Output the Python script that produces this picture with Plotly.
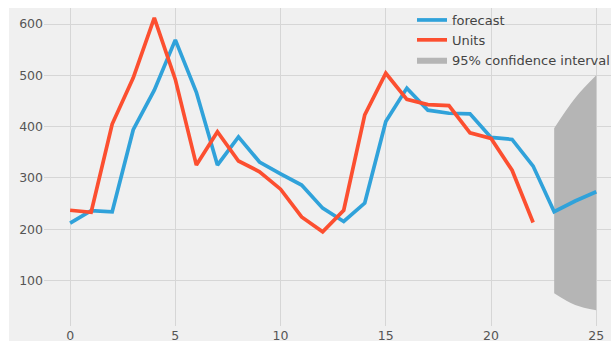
import plotly.graph_objects as go

# ---- data ----
units_x = list(range(0, 23))
units = [237, 233, 405, 495, 612, 492, 325, 390, 333, 312, 278, 224, 195, 237,
         423, 504, 453, 443, 441, 388, 377, 315, 213]
forecast_x = list(range(0, 26))
forecast = [212, 236, 234, 394, 471, 569, 467, 325, 380, 331, 308, 286, 241, 215,
            251, 410, 475, 432, 426, 425, 379, 375, 323, 234, 255, 273]
ci_x = [23, 24, 25]
ci_lower = [75, 52, 42]
ci_upper = [397, 456, 500]
xticks = [0, 5, 10, 15, 20, 25]
yticks = [100, 200, 300, 400, 500, 600]

BLUE = "#30a2da"
RED = "#fc4f30"
BG = "#f0f0f0"

W, H = 611, 341
ML, MR, MT, MB = 44, 0, 8, 15
PW, PH = W - ML - MR, H - MT - MB

fig = go.Figure()

fig.add_trace(go.Scatter(x=ci_x, y=ci_lower, mode="lines", line=dict(width=0, shape="spline"),
                         showlegend=False, hoverinfo="skip"))
fig.add_trace(go.Scatter(x=ci_x, y=ci_upper, mode="lines", line=dict(width=0, shape="spline"),
                         fill="tonexty", fillcolor="#b5b5b5",
                         name="95% confidence interval", legendrank=3))
fig.add_trace(go.Scatter(x=forecast_x, y=forecast, mode="lines",
                         line=dict(color=BLUE, width=3.7), name="forecast", legendrank=1))
fig.add_trace(go.Scatter(x=units_x, y=units, mode="lines",
                         line=dict(color=RED, width=3.7), name="Units", legendrank=2))

# white strips at the top and left edges of the picture
fig.add_shape(type="rect", xref="paper", yref="paper", layer="below",
              x0=-ML / PW - 0.01, x1=(9 - ML) / PW, y0=-MB / PH - 0.01, y1=1 + MT / PH + 0.01,
              fillcolor="white", line=dict(width=0))
fig.add_shape(type="rect", xref="paper", yref="paper", layer="below",
              x0=-ML / PW - 0.01, x1=1.01, y0=1, y1=1 + MT / PH + 0.01,
              fillcolor="white", line=dict(width=0))

axis_common = dict(showgrid=True, gridcolor="#d6d6d6", gridwidth=1, zeroline=False,
                   showline=False, ticks="", automargin=False,
                   tickfont=dict(family="DejaVu Sans", size=12.5, color="#555555"))

fig.update_layout(
    width=W, height=H,
    margin=dict(l=ML, r=MR, t=MT, b=MB, autoexpand=False),
    paper_bgcolor=BG, plot_bgcolor=BG,
    xaxis=dict(range=[-1.24, 25.7], tickvals=xticks, **axis_common),
    yaxis=dict(range=[11.3, 631.2], tickvals=yticks, **axis_common),
    legend=dict(x=(412 - ML) / PW, xanchor="left", y=1 + 3 / PH, yanchor="top",
                traceorder="normal",
                bgcolor="rgba(0,0,0,0)", tracegroupgap=0,
                font=dict(family="DejaVu Sans", size=13, color="#444444")),
    showlegend=True,
)

fig.write_html("out.html")
